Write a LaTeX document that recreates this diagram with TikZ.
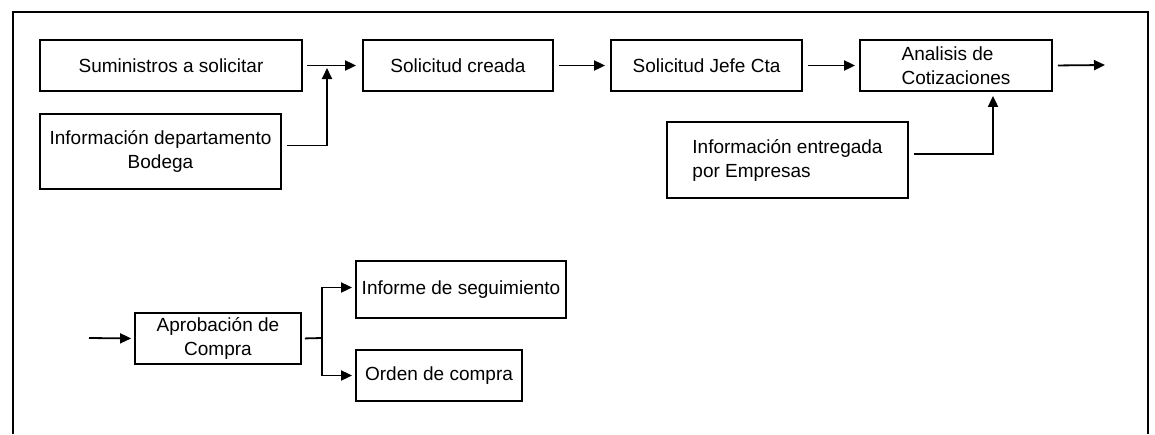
\documentclass[tikz,border=0pt]{standalone}
\usepackage{fontspec}
\setmainfont{Liberation Sans}
\usetikzlibrary{arrows.meta}
\tikzset{
    caja/.style={draw, rectangle, line width=1.8pt, inner sep=0pt, align=center,
        font=\fontsize{19}{24}\selectfont},
    flecha/.style={-{Triangle[length=11pt,width=10pt]}, line width=1.8pt},
}
% caja: name, left, top, right, bottom, options, text
\newcommand\Caja[7]{%
    \node[caja, #6, minimum width={#4-#2}, minimum height={#5-#3}] (#1)
        at ({(#2+#4)/2},{(#3+#5)/2}) {#7};
}

\begin{document}
\begin{tikzpicture}[x=1pt,y=-1pt]
    \useasboundingbox (0,0) rectangle (1155,434);
    \draw[line width=2.6pt] (13,434) -- (13,12) -- (1148,12) -- (1148,434);
    % fila de arriba
    \Caja{sumi}{40}{40}{302}{91}{}{Suministros a solicitar}
    \Caja{bodega}{40}{114}{281}{189}{}{Información departamento\\Bodega}
    \Caja{creada}{363}{40}{553}{91}{}{Solicitud creada}
    \Caja{jefe}{611}{40}{802}{91}{}{Solicitud Jefe Cta}
    \Caja{analisis}{860}{40}{1052}{91}{align=left}{Analisis de\\Cotizaciones}
    \Caja{empresas}{667}{122}{908}{198}{align=left}{Información entregada\\por Empresas}
    \coordinate (junta) at (327,65);
    \coordinate (salida) at (1105,65);
    \draw[flecha, shorten >=6pt] ([xshift=4pt]sumi.east) -- (creada.west);
    \draw[flecha] ([shift={(5,-6)}]bodega.east) -| ([yshift=-3pt]junta);
    \draw[flecha, shorten >=5pt, shorten <=5pt] (creada.east) -- (jefe.west);
    \draw[flecha, shorten >=4pt, shorten <=5pt] (jefe.east) -- (analisis.west);
    \draw[flecha, shorten <=5pt] (analisis.east) -- (salida);
    \draw[flecha] ([shift={(5,-6)}]empresas.east) -| ([xshift=37pt,yshift=-4pt]analisis.south);
    % fila de abajo
    \Caja{aprob}{135}{313}{301}{364}{}{Aprobación de\\Compra}
    \Caja{informe}{356}{261}{566}{318}{}{Informe de seguimiento}
    \Caja{orden}{356}{350}{522}{401}{}{Orden de compra}
    \coordinate (entrada) at (89,338);
    \coordinate (rama) at (322,338);
    \draw[flecha, shorten >=3pt] (entrada) -- (aprob.west);
    \draw[line width=1.8pt, shorten <=3pt] (aprob.east) -- (rama);
    \draw[flecha, shorten >=3pt] (rama) |- ([yshift=2pt]informe.west);
    \draw[flecha, shorten >=3pt] (rama) |- (orden.west);
\end{tikzpicture}
\end{document}
